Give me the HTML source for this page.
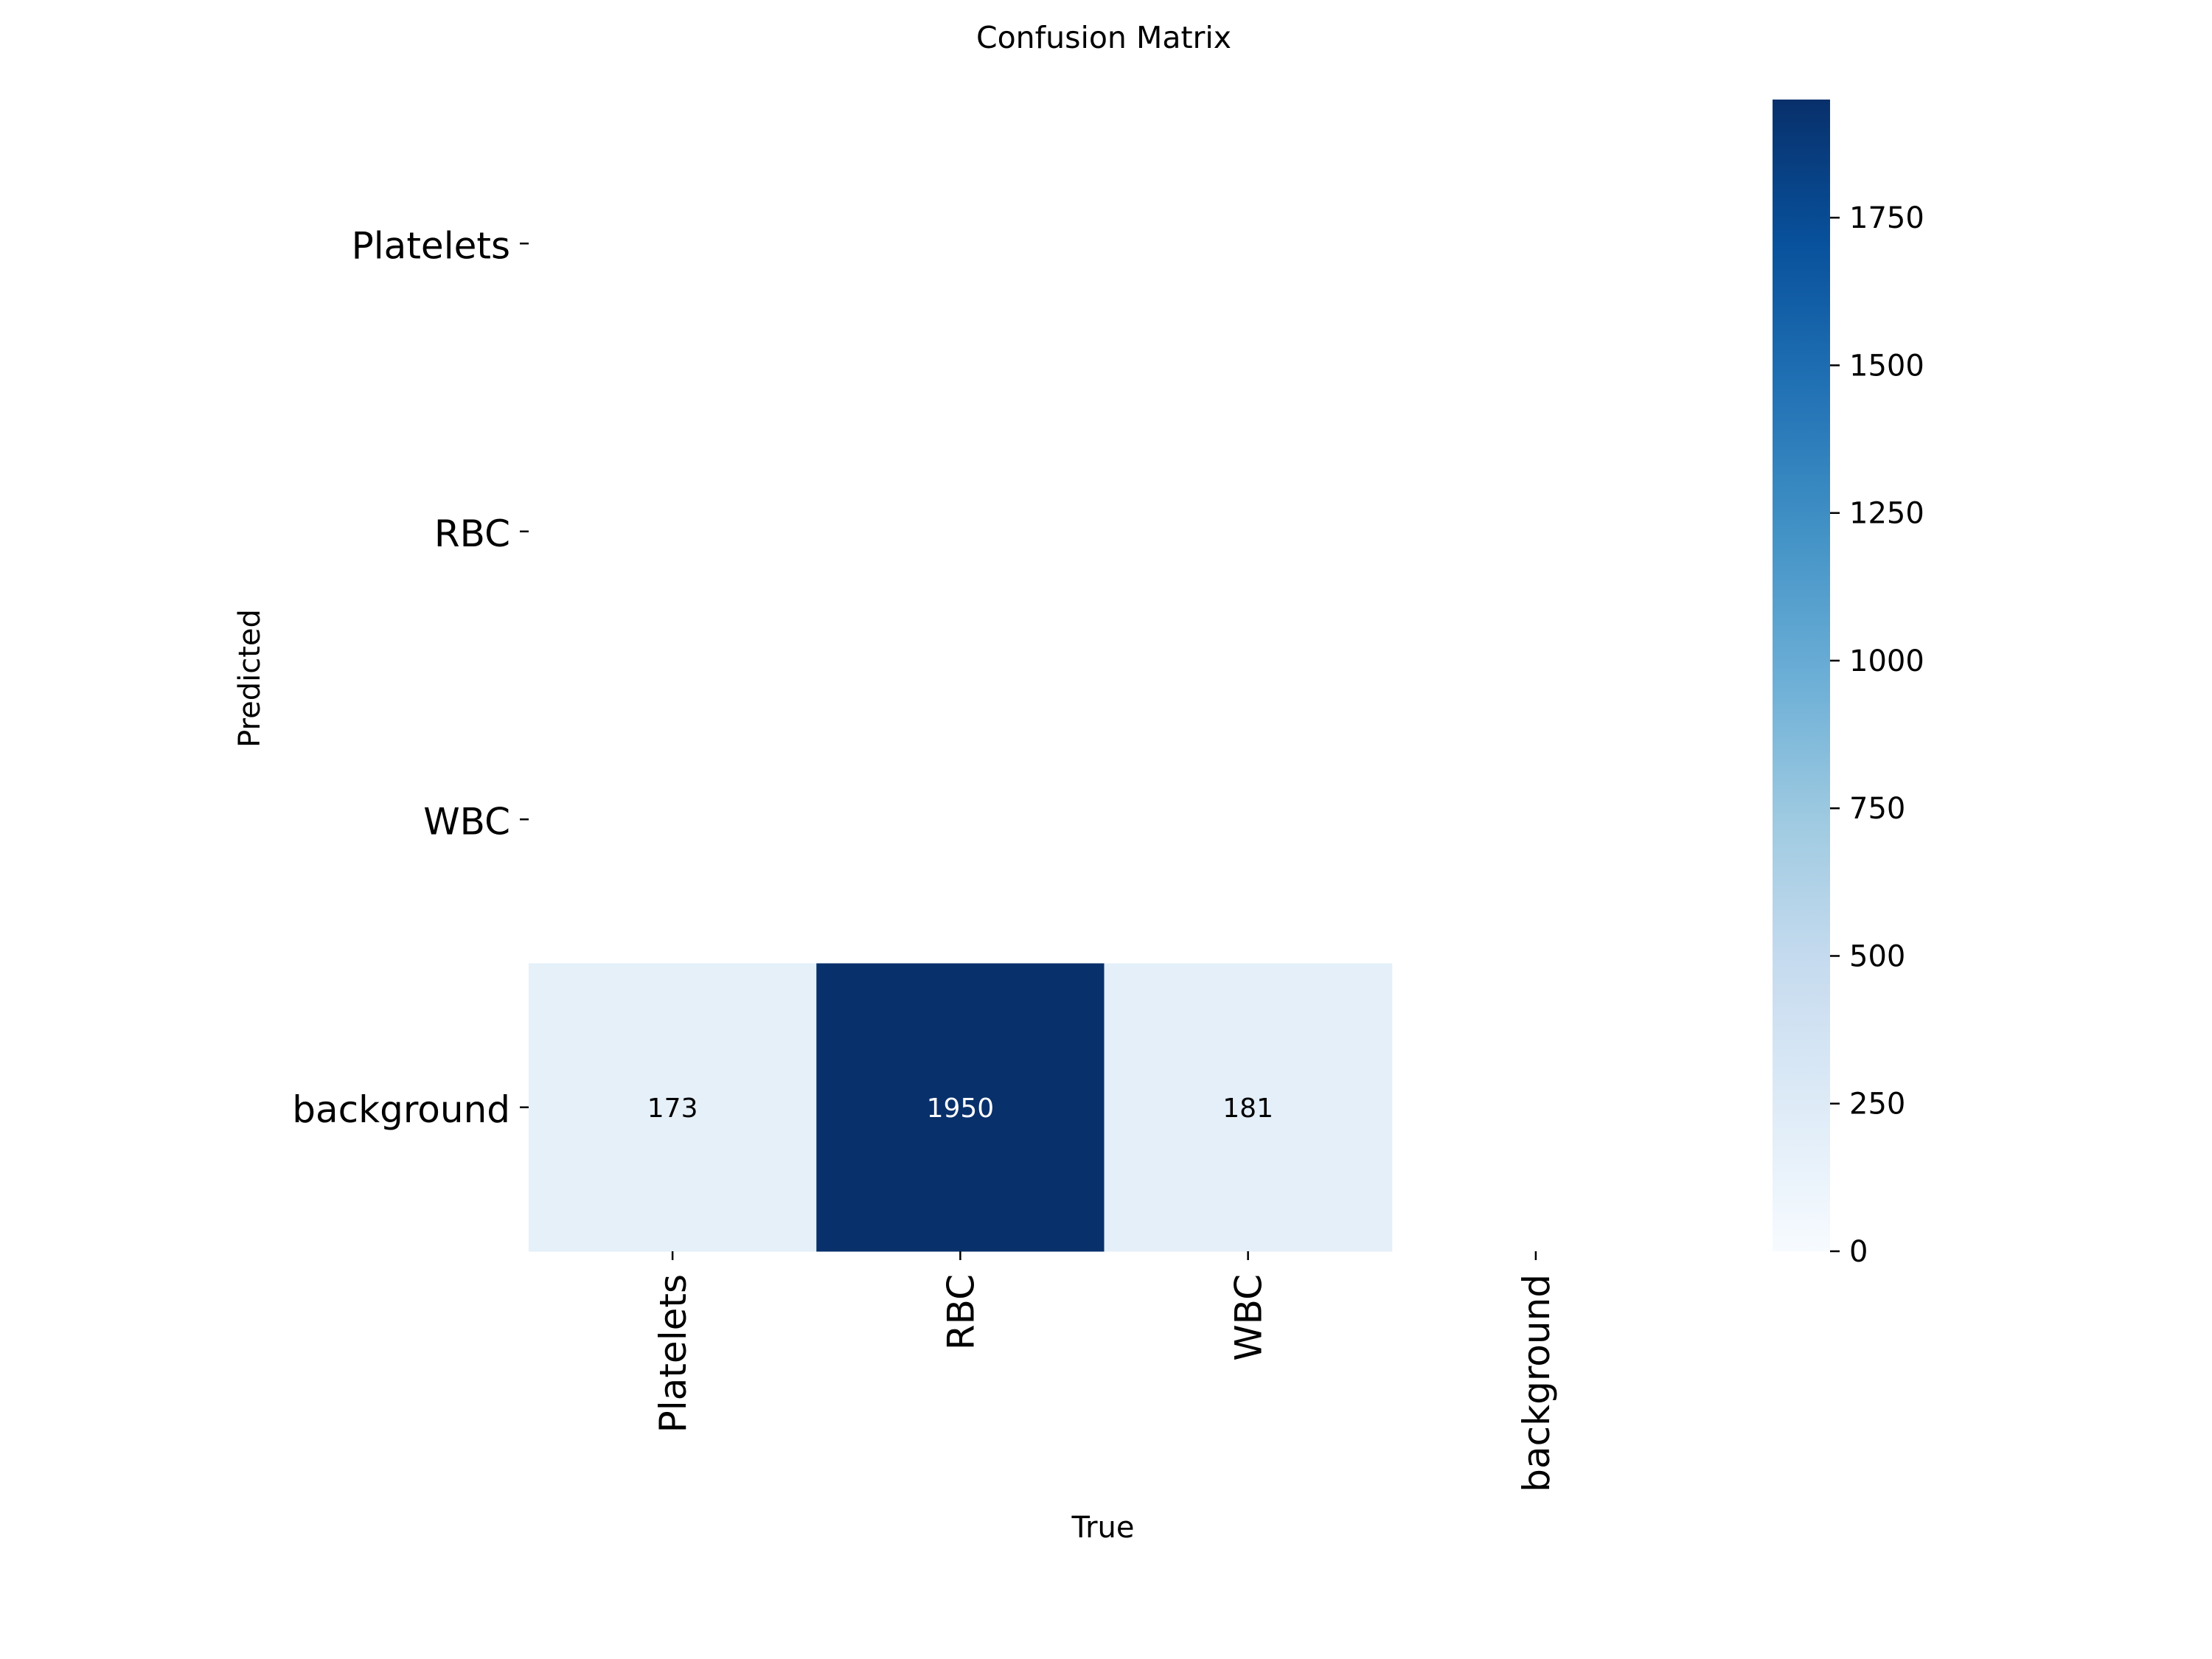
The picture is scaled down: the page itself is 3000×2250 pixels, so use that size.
<!DOCTYPE html>
<html><head><meta charset="utf-8"><style>
html,body{margin:0;padding:0;background:#fff;}
svg{display:block;font-family:"DejaVu Sans","Liberation Sans",sans-serif;}
</style></head><body>
<svg id="chart" width="3000" height="2250" viewBox="0 0 3000 2250" xmlns="http://www.w3.org/2000/svg">
<defs>
<linearGradient id="blues" x1="0" y1="1" x2="0" y2="0">
<stop offset="0" stop-color="#f7fbff"/><stop offset="0.125" stop-color="#deebf7"/><stop offset="0.25" stop-color="#c6dbef"/><stop offset="0.375" stop-color="#9ecae1"/><stop offset="0.5" stop-color="#6baed6"/><stop offset="0.625" stop-color="#4292c6"/><stop offset="0.75" stop-color="#2171b5"/><stop offset="0.875" stop-color="#08519c"/><stop offset="1" stop-color="#08306b"/>
</linearGradient>
</defs>
<text x="1497" y="65" font-size="41" text-anchor="middle">Confusion Matrix</text>
<text x="1496" y="2085" font-size="40" text-anchor="middle">True</text>
<text transform="translate(352,920) rotate(-90)" font-size="40" text-anchor="middle">Predicted</text>
<g id="cells"></g>
<g id="yticks"></g>
<g id="xticks"></g>
<rect x="2404" y="135" width="78" height="1562" fill="url(#blues)"/>
<g id="cbticks"></g>
</svg>
<script>
const categories = ["Platelets", "RBC", "WBC", "background"];
const matrix = [
  [0, 0, 0, 0],
  [0, 0, 0, 0],
  [0, 0, 0, 0],
  [173, 1950, 181, 0]
];
const colorbarTicks = [0, 250, 500, 750, 1000, 1250, 1500, 1750];
const vmax = 1950;

const NS = "http://www.w3.org/2000/svg";
const plotLeft = 717, plotTop = 135, plotRight = 2278, plotBottom = 1697;
const cw = (plotRight - plotLeft) / categories.length, ch = (plotBottom - plotTop) / categories.length;
const xPos = i => plotLeft + i * cw;
const yPos = i => plotTop + i * ch;
const cbY = v => 1697 - (v / vmax) * (1697 - 135);
const stops = [[247,251,255],[222,235,247],[198,219,239],[158,202,225],[107,174,214],[66,146,198],[33,113,181],[8,81,156],[8,48,107]];
function blues(t){
  t = Math.max(0, Math.min(1, t)) * 8;
  const i = Math.min(7, Math.floor(t)), f = t - i;
  const c = stops[i].map((a, k) => Math.round(a + (stops[i+1][k] - a) * f));
  return "rgb(" + c.join(",") + ")";
}
function mk(tag, attrs, parent){
  const e = document.createElementNS(NS, tag);
  for (const k in attrs) e.setAttribute(k, attrs[k]);
  parent.appendChild(e);
  return e;
}
const cells = document.getElementById("cells");
matrix.forEach((row, r) => row.forEach((v, c) => {
  if (!v) return;
  const rect = mk("rect", {x: xPos(c), y: yPos(r), width: cw + 0.5, height: ch + 0.5, fill: blues(v / vmax)}, cells);
  
  
  const t = mk("text", {x: xPos(c) + cw/2, y: yPos(r) + ch/2 + 13, "font-size": 36, "text-anchor": "middle", fill: v / vmax > 0.5 ? "#fff" : "#000"}, cells);
  t.textContent = v;
  
  
}));
const yt = document.getElementById("yticks");
categories.forEach((name, i) => {
  const cy = yPos(i) + ch/2;
  const l = mk("line", {x1: 705, x2: 717, y1: cy, y2: cy, stroke: "#000", "stroke-width": 2.5}, yt);
  
  
  const t = mk("text", {x: 692, y: cy + 20, "font-size": 50, "text-anchor": "end"}, yt);
  t.textContent = name;
  
  
});
const xt = document.getElementById("xticks");
categories.forEach((name, i) => {
  const cx = xPos(i) + cw/2;
  const l = mk("line", {x1: cx, x2: cx, y1: 1697, y2: 1709, stroke: "#000", "stroke-width": 2.5}, xt);
  
  
  const t = mk("text", {transform: "translate(" + (cx + 18) + ",1728) rotate(-90)", "font-size": 50, "text-anchor": "end"}, xt);
  t.textContent = name;
  
  
});
const cb = document.getElementById("cbticks");
colorbarTicks.forEach(v => {
  const y = cbY(v);
  const l = mk("line", {x1: 2482, x2: 2495, y1: y, y2: y, stroke: "#000", "stroke-width": 2.5}, cb);
  
  
  const t = mk("text", {x: 2508, y: y + 14, "font-size": 40}, cb);
  t.textContent = v;
  
  
});
</script>
</body></html>
